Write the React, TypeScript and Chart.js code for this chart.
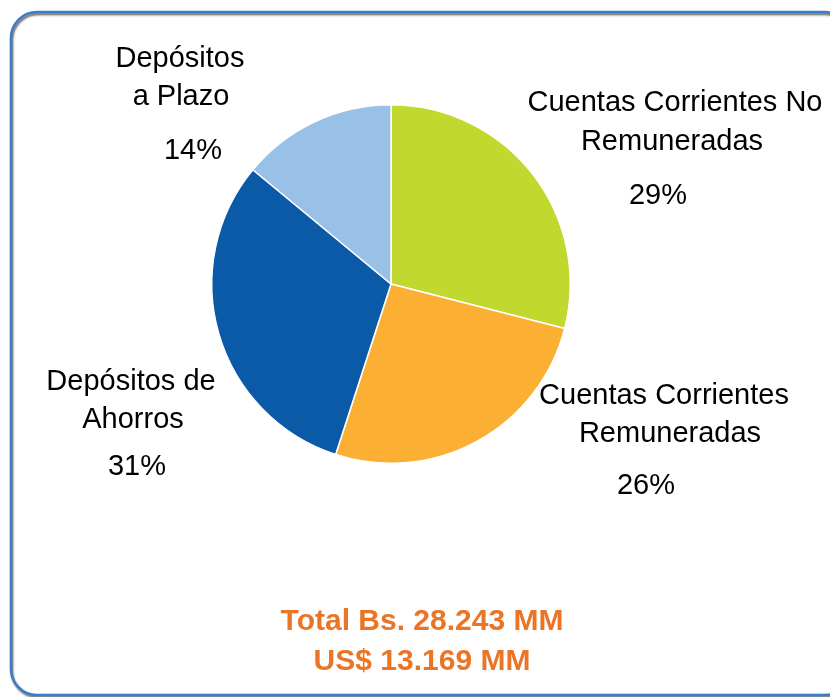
import React, { useEffect, useRef } from "react";
import { Chart, registerables } from "chart.js";

Chart.register(...registerables);

const categories = [
  "Cuentas Corrientes No Remuneradas",
  "Cuentas Corrientes Remuneradas",
  "Depósitos de Ahorros",
  "Depósitos a Plazo",
];
const labelLines = [
  ["Cuentas Corrientes No", "Remuneradas"],
  ["Cuentas Corrientes", "Remuneradas"],
  ["Depósitos de", "Ahorros"],
  ["Depósitos", "a Plazo"],
];
const values = [29, 26, 31, 14];
const colors = ["#c1d82f", "#fbb034", "#0a5aa8", "#99c0e6"];
const totalLines = ["Total Bs. 28.243 MM", "US$ 13.169 MM"];

// label layout: [line1X, line1Y, line2X, line2Y, pctX, pctY]
const labelPos = [
  [675, 103, 672, 142, 658, 196],
  [664, 396, 670, 434, 646, 486],
  [131, 382, 133, 420, 137, 467],
  [180, 59, 181, 97, 193, 151],
];

export default function App() {
  const ref = useRef<HTMLCanvasElement | null>(null);
  useEffect(() => {
    if (!ref.current) return;
    const sum = values.reduce((a, b) => a + b, 0);
    const deco = {
      id: "deco",
      beforeDraw(chart: any) {
        const ctx = chart.ctx;
        ctx.save();
        ctx.fillStyle = "#ffffff";
        ctx.fillRect(0, 0, chart.width, chart.height);
        const x = 11, y = 12, w = 840, h = 683, r = 26;
        ctx.beginPath();
        ctx.moveTo(x + r, y);
        ctx.lineTo(x + w - r, y);
        ctx.arcTo(x + w, y, x + w, y + r, r);
        ctx.lineTo(x + w, y + h - r);
        ctx.arcTo(x + w, y + h, x + w - r, y + h, r);
        ctx.lineTo(x + r, y + h);
        ctx.arcTo(x, y + h, x, y + h - r, r);
        ctx.lineTo(x, y + r);
        ctx.arcTo(x, y, x + r, y, r);
        ctx.closePath();
        ctx.shadowColor = "rgba(0,0,0,0.6)";
        ctx.shadowOffsetX = 1;
        ctx.shadowOffsetY = 2;
        ctx.shadowBlur = 2;
        ctx.strokeStyle = "#3a7cc6";
        ctx.lineWidth = 2.5;
        ctx.stroke();
        ctx.restore();
      },
      afterDraw(chart: any) {
        const ctx = chart.ctx;
        ctx.save();
        ctx.textAlign = "center";
        ctx.textBaseline = "middle";
        ctx.fillStyle = "#000000";
        ctx.font = "29px 'Liberation Sans', Arial, sans-serif";
        labelLines.forEach((lines, i) => {
          const p = labelPos[i];
          ctx.fillText(lines[0], p[0], p[1]);
          ctx.fillText(lines[1], p[2], p[3]);
          ctx.fillText(Math.round((values[i] / sum) * 100) + "%", p[4], p[5]);
        });
        ctx.fillStyle = "#ea7526";
        ctx.font = "bold 30px 'Liberation Sans', Arial, sans-serif";
        ctx.fillText(totalLines[0], 422, 622);
        ctx.fillText(totalLines[1], 422, 662);
        ctx.restore();
      },
    };
    const chart = new Chart(ref.current, {
      type: "pie",
      data: {
        labels: categories,
        datasets: [
          {
            data: values,
            backgroundColor: colors,
            borderColor: "#ffffff",
            borderWidth: 1.5,
          },
        ],
      },
      options: {
        responsive: false,
        animation: false,
        layout: { padding: { left: 211, right: 259, top: 104, bottom: 233 } },
        plugins: { legend: { display: false }, tooltip: { enabled: false } },
      },
      plugins: [deco],
    });
    return () => chart.destroy();
  }, []);
  return (
    <div style={{ position: "absolute", left: 0, top: 0, width: 830, height: 697 }}>
      <canvas ref={ref} width={830} height={697} style={{ width: 830, height: 697 }} />
    </div>
  );
}
